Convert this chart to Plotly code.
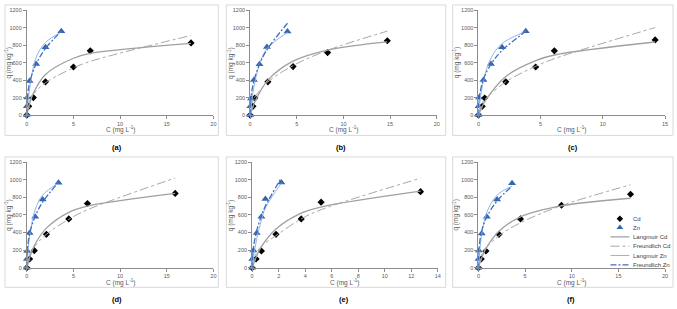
import plotly.graph_objects as go

# ---------------- data ----------------
PANEL_LABELS = ["(a)", "(b)", "(c)", "(d)", "(e)", "(f)"]
X_MAX = [20, 20, 15, 20, 14, 20]
X_DTICK = [5, 5, 5, 5, 2, 5]

# Panel (a)
A_CD_C = [0, 0.2, 0.7, 2.0, 5.0, 6.8, 17.6]
A_CD_Q = [0, 100, 200, 380, 550, 735, 825]
A_CD_LANG = [0, 90, 250, 465, 650, 705, 820]
A_CD_FREU = [0, 142, 239, 370, 540, 614, 911]
A_ZN_C = [0, 0.01, 0.05, 0.3, 1.0, 2.0, 3.7]
A_ZN_Q = [0, 100, 200, 390, 585, 775, 960]
A_ZN_LANG = [0, 13, 62, 300, 660, 830, 950]
A_ZN_FREU = [0, 102, 188, 371, 585, 761, 960]

# Panel (b)
B_CD_C = [0, 0.3, 0.5, 1.9, 4.6, 8.3, 14.7]
B_CD_Q = [0, 100, 195, 380, 555, 715, 850]
B_CD_LANG = [0, 95, 150, 400, 617, 744, 837]
B_CD_FREU = [0, 164, 206, 379, 566, 740, 960]
B_ZN_C = [0, 0.02, 0.1, 0.4, 1.0, 1.8, 4.0]
B_ZN_Q = [0, 100, 190, 400, 580, 780, 955]
B_ZN_LANG = [0, 21, 99, 318, 580, 760, 945]
B_ZN_FREU = [0, 108, 216, 391, 580, 747, 1050]

# Panel (c)
C_CD_C = [0, 0.3, 0.5, 2.2, 4.6, 6.1, 14.2]
C_CD_Q = [0, 100, 195, 380, 550, 735, 860]
C_CD_LANG = [0, 97, 153, 442, 623, 687, 836]
C_CD_FREU = [0, 135, 176, 380, 558, 645, 1001]
C_ZN_C = [0, 0.01, 0.05, 0.4, 1.0, 1.9, 3.8]
C_ZN_Q = [0, 100, 200, 400, 585, 775, 960]
C_ZN_LANG = [0, 15, 70, 393, 650, 818, 957]
C_ZN_FREU = [0, 101, 186, 410, 580, 740, 955]

# Panel (d)
D_CD_C = [0, 0.3, 0.8, 2.1, 4.5, 6.5, 15.9]
D_CD_Q = [0, 100, 195, 380, 555, 730, 845]
D_CD_LANG = [0, 113, 250, 450, 630, 700, 845]
D_CD_FREU = [0, 147, 238, 380, 551, 659, 1020]
D_ZN_C = [0, 0.01, 0.05, 0.3, 0.9, 1.7, 3.4]
D_ZN_Q = [0, 100, 190, 395, 580, 775, 965]
D_ZN_LANG = [0, 17, 80, 357, 661, 826, 961]
D_ZN_FREU = [0, 106, 195, 386, 586, 746, 972]

# Panel (e)
E_CD_C = [0, 0.3, 0.7, 1.8, 3.7, 5.2, 12.7]
E_CD_Q = [0, 100, 190, 380, 555, 745, 865]
E_CD_LANG = [0, 120, 240, 440, 620, 690, 870]
E_CD_FREU = [0, 160, 245, 365, 555, 660, 1017]
E_ZN_C = [0, 0.01, 0.1, 0.35, 0.7, 1.0, 2.2]
E_ZN_Q = [0, 100, 195, 395, 580, 780, 970]
E_ZN_LANG = [0, 12, 111, 330, 540, 680, 960]
E_ZN_FREU = [0, 77, 232, 423, 590, 700, 1022]

# Panel (f)
F_CD_C = [0, 0.3, 0.8, 2.2, 4.5, 8.9, 16.3]
F_CD_Q = [0, 100, 190, 380, 555, 710, 835]
F_CD_LANG = [0, 96, 218, 415, 579, 703, 790]
F_CD_FREU = [0, 141, 225, 364, 511, 706, 942]
F_ZN_C = [0, 0.01, 0.05, 0.35, 0.9, 2.0, 3.6]
F_ZN_Q = [0, 100, 195, 390, 580, 775, 960]
F_ZN_LANG = [0, 16, 77, 379, 632, 825, 928]
F_ZN_FREU = [0, 125, 217, 420, 579, 760, 927]

SERIES_NAMES = ["Cd", "Zn", "Langmuir Cd", "Freundlich Cd", "Langmuir Zn", "Freundlich Zn"]

PANELS = [
    (A_CD_C, A_CD_Q, A_CD_LANG, A_CD_FREU, A_ZN_C, A_ZN_Q, A_ZN_LANG, A_ZN_FREU),
    (B_CD_C, B_CD_Q, B_CD_LANG, B_CD_FREU, B_ZN_C, B_ZN_Q, B_ZN_LANG, B_ZN_FREU),
    (C_CD_C, C_CD_Q, C_CD_LANG, C_CD_FREU, C_ZN_C, C_ZN_Q, C_ZN_LANG, C_ZN_FREU),
    (D_CD_C, D_CD_Q, D_CD_LANG, D_CD_FREU, D_ZN_C, D_ZN_Q, D_ZN_LANG, D_ZN_FREU),
    (E_CD_C, E_CD_Q, E_CD_LANG, E_CD_FREU, E_ZN_C, E_ZN_Q, E_ZN_LANG, E_ZN_FREU),
    (F_CD_C, F_CD_Q, F_CD_LANG, F_CD_FREU, F_ZN_C, F_ZN_Q, F_ZN_LANG, F_ZN_FREU),
]

# ---------------- layout geometry ----------------
W, H = 677, 309
FONT = "Liberation Sans"
TICK_COL = "#595959"
AXIS_COL = "#8C8C8C"

# plot-area pixel boxes: (x0, x1, ytop, ybottom)
PLOT_PX = [
    (25, 213, 7.3, 114.3), (250, 438, 7.3, 114.3), (480, 668, 7.3, 114.3),
    (25, 213, 162.3, 270), (252, 439, 162.3, 270), (480, 668, 162.3, 270),
]
FRAME_PX = [
    (3, 218, 2, 135), (226, 447, 2, 135), (454, 676, 2, 135),
    (3, 218, 157, 290), (226, 447, 157, 290), (454, 676, 157, 290),
]
YTITLE_X = [7, 231, 458, 7, 231, 458]
XTITLE_DY = [14.5, 14.5, 14.5, 15.5, 15.5, 15.5]
PLABEL_X = [116, 342, 575, 116, 345, 573]


def px(x):
    return x / W


def py(y):
    return 1 - y / H


CD_COL = "#000000"
ZN_COL = "#3565AE"
LANG_CD_COL = "#A0A0A0"
FREU_CD_COL = "#A6A6A6"
LANG_ZN_COL = "#93B6E4"
FREU_ZN_COL = "#3F6FC0"

fig = go.Figure()
layout = dict(
    width=W, height=H, margin=dict(l=0, r=0, t=0, b=0),
    paper_bgcolor="white", plot_bgcolor="rgba(0,0,0,0)", showlegend=False,
    font=dict(family=FONT, size=6, color=TICK_COL),
)
shapes = []
annotations = []

for i, (cdc, cdq, cdl, cdf, znc, znq, znl, znf) in enumerate(PANELS):
    n = i + 1
    xa = "x" if n == 1 else f"x{n}"
    ya = "y" if n == 1 else f"y{n}"
    xk = "xaxis" if n == 1 else f"xaxis{n}"
    yk = "yaxis" if n == 1 else f"yaxis{n}"
    x0, x1, yt, yb = PLOT_PX[i]
    layout[xk] = dict(
        domain=[px(x0), px(x1)], range=[0, X_MAX[i]], dtick=X_DTICK[i], tick0=0,
        anchor=ya, showline=True, linecolor=AXIS_COL, linewidth=1,
        ticks="outside", ticklen=3, tickcolor=AXIS_COL, showgrid=False, zeroline=False,
        tickfont=dict(size=5.5, color=TICK_COL, family=FONT), fixedrange=True,
    )
    layout[yk] = dict(
        domain=[py(yb), py(yt)], range=[0, 1200], dtick=200, tick0=0,
        anchor=xa, showline=True, linecolor=AXIS_COL, linewidth=1,
        ticks="outside", ticklen=3, tickcolor=AXIS_COL, showgrid=False, zeroline=False,
        tickfont=dict(size=5.5, color=TICK_COL, family=FONT), fixedrange=True,
    )
    common = dict(xaxis=xa, yaxis=ya, cliponaxis=False, showlegend=False)
    fig.add_trace(go.Scatter(x=cdc, y=cdq, mode="markers", name=SERIES_NAMES[0],
                             marker=dict(symbol="diamond", size=5.5, color=CD_COL), **common))
    fig.add_trace(go.Scatter(x=znc, y=znq, mode="markers", name=SERIES_NAMES[1],
                             marker=dict(symbol="triangle-up", size=7, color=ZN_COL), **common))
    fig.add_trace(go.Scatter(x=cdc, y=cdl, mode="lines", name=SERIES_NAMES[2],
                             line=dict(color=LANG_CD_COL, width=1.3, shape="spline"), **common))
    fig.add_trace(go.Scatter(x=cdc, y=cdf, mode="lines", name=SERIES_NAMES[3],
                             line=dict(color=FREU_CD_COL, width=1, shape="spline", dash="dashdot"), **common))
    fig.add_trace(go.Scatter(x=znc, y=znl, mode="lines", name=SERIES_NAMES[4],
                             line=dict(color=LANG_ZN_COL, width=1, shape="spline"), **common))
    fig.add_trace(go.Scatter(x=znc, y=znf, mode="lines", name=SERIES_NAMES[5],
                             line=dict(color=FREU_ZN_COL, width=1.3, shape="spline", dash="6px,2px,2px,2px"), **common))

    fx0, fx1, fyt, fyb = FRAME_PX[i]
    shapes.append(dict(type="rect", xref="paper", yref="paper",
                       x0=px(fx0), x1=px(fx1), y0=py(fyb), y1=py(fyt),
                       line=dict(color="#D9D9D9", width=1), layer="below"))
    # axis titles
    annotations.append(dict(xref="paper", yref="paper", x=px((x0 + x1) / 2), y=py(yb + XTITLE_DY[i]),
                            xanchor="center", yanchor="middle",
                            text="C (mg L<sup>-1</sup>)", showarrow=False,
                            font=dict(size=6.5, color=TICK_COL, family=FONT)))
    annotations.append(dict(xref="paper", yref="paper", x=px(YTITLE_X[i]), y=py((yt + yb) / 2),
                            xanchor="center", yanchor="middle",
                            text="q (mg kg<sup>-1</sup>)", showarrow=False, textangle=-90,
                            font=dict(size=6.5, color=TICK_COL, family=FONT)))
    # panel label
    annotations.append(dict(xref="paper", yref="paper", x=px(PLABEL_X[i]), y=py(fyb + 12),
                            xanchor="center", yanchor="middle",
                            text="<b>" + PANEL_LABELS[i] + "</b>", showarrow=False,
                            font=dict(size=7.5, color="#000000", family=FONT)))

# ---------- manual legend inside panel (f) ----------
LEG_Y = [220, 229, 238.5, 248, 257.5, 267]
LEG_SYM_X0, LEG_SYM_X1, LEG_TXT_X = 613, 632, 634
LX0, LX1, LYT, LYB = 605, 640, 212, 275
layout["xaxis7"] = dict(domain=[px(LX0), px(LX1)], range=[LX0, LX1], visible=False,
                        anchor="y7", fixedrange=True)
layout["yaxis7"] = dict(domain=[py(LYB), py(LYT)], range=[LYB, LYT], visible=False,
                        anchor="x7", fixedrange=True)
mid = (LEG_SYM_X0 + LEG_SYM_X1) / 2
fig.add_trace(go.Scatter(x=[mid], y=[LEG_Y[0]], xaxis="x7", yaxis="y7", mode="markers",
                         marker=dict(symbol="diamond", size=5, color=CD_COL), showlegend=False,
                         hoverinfo="skip", cliponaxis=False))
fig.add_trace(go.Scatter(x=[mid], y=[LEG_Y[1]], xaxis="x7", yaxis="y7", mode="markers",
                         marker=dict(symbol="triangle-up", size=6, color=ZN_COL), showlegend=False,
                         hoverinfo="skip", cliponaxis=False))
leg_lines = [
    (LEG_Y[2], LANG_CD_COL, 1.3, "solid"),
    (LEG_Y[3], FREU_CD_COL, 1, "dashdot"),
    (LEG_Y[4], LANG_ZN_COL, 1, "solid"),
    (LEG_Y[5], FREU_ZN_COL, 1.3, "6px,2px,2px,2px"),
]
for (yy, col, wd, ds) in leg_lines:
    fig.add_trace(go.Scatter(x=[LEG_SYM_X0, LEG_SYM_X1], y=[yy, yy], xaxis="x7", yaxis="y7",
                             mode="lines", line=dict(color=col, width=wd, dash=ds),
                             showlegend=False, hoverinfo="skip", cliponaxis=False))
for name, yy in zip(SERIES_NAMES, LEG_Y):
    annotations.append(dict(xref="paper", yref="paper", x=px(LEG_TXT_X), y=py(yy),
                            xanchor="left", yanchor="middle", text=name, showarrow=False,
                            font=dict(size=6, color="#404040", family=FONT)))

layout["shapes"] = shapes
layout["annotations"] = annotations
fig.update_layout(**layout)
fig.write_html("out.html")
